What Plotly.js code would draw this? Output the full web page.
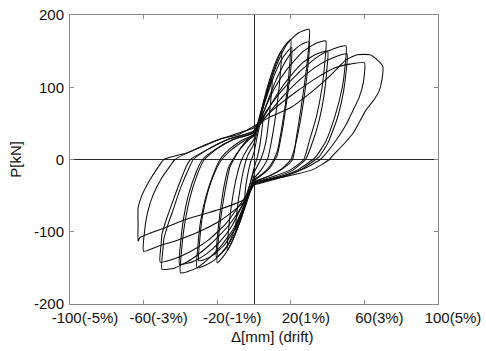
<!DOCTYPE html>
<html>
<head>
<meta charset="utf-8">
<script src="https://cdn.plot.ly/plotly-3.0.1.min.js"></script>
<style>html,body{margin:0;padding:0;background:#fff;}#chart{width:486px;height:351px;}</style>
</head>
<body>
<div id="chart"></div>
<script>
// Hysteresis cycles: displacement [mm] and load [kN]
const cycle01x = [0, -2, -4, -5, -4.6, -3.5, -2, 0, 2, 3.8, 5, 4.6, 3.5, 2, 0];
const cycle01y = [-12, -32, -48, -55, -40, -22, -5, 10, 35, 55, 62, 48, 25, 5, -12];

const cycle02x = [0, -3, -6, -8.5, -10, -9.5, -8, -6, -3.5, 0, 3, 6, 8.5, 10, 9.5, 8.2, 6.5, 4, 0];
const cycle02y = [-15, -42, -70, -88, -98, -78, -48, -18, 5, 22, 52, 82, 102, 112, 92, 58, 25, 2, -18];

const cycle03x = [0, -3, -6.5, -10, -12.5, -14.5, -14, -12.5, -10, -7, -3.5, 0, 3.5, 7, 10.5, 13, 15, 14.5, 13, 10.5, 7.5, 4, 0];
const cycle03y = [-22, -48, -78, -102, -117, -126, -102, -68, -30, -2, 15, 28, 62, 98, 126, 142, 150, 125, 85, 40, 2, -14, -26];

const cycle04x = [0, -4, -8, -12, -16, -20, -19.5, -18, -15.5, -13, -11, -7, -3, 0, 5, 10, 14, 17.5, 20, 19.5, 18, 15.5, 12.5, 9, 5, 0];
const cycle04y = [-26, -55, -88, -114, -132, -143, -115, -80, -40, -10, 0, 17, 29, 35, 78, 118, 146, 160, 166, 135, 95, 50, 10, -8, -19, -28];

const cycle05x = [0, -5, -10, -14, -17.5, -20.5, -20, -18.5, -16.5, -14, -11.5, -7, -3, 0, 5, 10, 14.5, 18, 20.5, 20, 18, 15.5, 12.5, 8.5, 4, 0];
const cycle05y = [-28, -60, -94, -117, -129, -135, -110, -75, -40, -12, 0, 16, 27, 33, 72, 110, 136, 149, 155, 125, 85, 42, 5, -12, -22, -29];

const cycle06x = [0, -4, -9, -15, -22, -27, -31, -30.5, -29, -26, -22, -18.5, -13, -7, 0, 4, 8, 13, 18, 24, 30, 29.5, 28, 25.5, 23, 21, 16, 9, 0];
const cycle06y = [-29, -60, -95, -122, -140, -147, -150, -120, -85, -50, -20, 0, 15, 26, 35, 65, 100, 135, 160, 175, 180, 150, 115, 70, 30, 0, -12, -22, -30];

const cycle07x = [0, -5, -10, -16, -22, -26.5, -30, -29.5, -28, -25, -21, -17.5, -12, -6, 0, 5, 10, 15, 20, 25.5, 30, 29.5, 28, 25.5, 22.5, 20, 15, 8, 0];
const cycle07y = [-30, -62, -94, -118, -132, -138, -140, -112, -78, -44, -16, 0, 14, 25, 34, 64, 98, 126, 147, 159, 163, 135, 100, 58, 20, 0, -13, -23, -31];

const cycle08x = [0, -5, -11, -18, -25, -31, -36, -40, -39.5, -38, -35, -31, -27, -20, -11, 0, 5, 11, 18, 26, 33, 39, 38.5, 37, 34, 30, 27, 20, 10, 0];
const cycle08y = [-31, -62, -95, -120, -138, -150, -155, -157, -130, -95, -55, -22, 0, 15, 28, 38, 65, 98, 125, 148, 160, 164, 135, 100, 60, 25, 0, -14, -24, -32];

const cycle09x = [0, -6, -12, -19, -26, -32, -37, -40.5, -40, -38.5, -35.5, -31.5, -28, -21, -12, 0, 6, 13, 20, 27, 34, 40, 39.5, 38, 35, 31, 28, 21, 11, 0];
const cycle09y = [-32, -62, -92, -115, -131, -140, -144, -145, -118, -85, -48, -18, 0, 14, 27, 37, 62, 92, 116, 135, 146, 150, 122, 88, 50, 18, 0, -15, -25, -33];

const cycle10x = [0, -6, -14, -24, -34, -43, -50, -49.5, -49, -46.5, -44, -40, -35, -33, -25, -14, 0, 7, 15, 25, 35, 43, 50, 49.5, 48, 44, 39, 34, 32, 24, 12, 0];
const cycle10y = [-33, -62, -92, -118, -138, -150, -152, -125, -110, -88, -70, -40, -10, 0, 14, 28, 40, 68, 95, 122, 143, 153, 157, 130, 100, 60, 25, 5, 0, -14, -26, -34];

const cycle11x = [0, -7, -15, -25, -35, -44, -51, -50.5, -50, -47.5, -45, -41, -36.5, -34.5, -26, -15, 0, 8, 16, 26, 36, 44, 50.5, 50, 48.5, 45, 40, 35.5, 33.5, 25, 12, 0];
const cycle11y = [-34, -60, -88, -112, -128, -138, -142, -118, -103, -82, -64, -36, -8, 0, 13, 27, 39, 64, 88, 113, 132, 142, 146, 120, 92, 55, 22, 4, 0, -15, -27, -35];

const cycle12x = [0, -6, -18, -30, -42, -52, -60, -59.5, -58, -55, -50, -45, -43, -33, -20, -8, 0, 10, 22, 34, 44, 52, 60, 59.4, 57, 54, 50, 45, 38, 36, 27, 14, 0];
const cycle12y = [-35, -60, -84, -100, -112, -120, -127, -100, -75, -50, -25, -7, 0, 13, 27, 37, 44, 68, 92, 113, 127, 132, 134, 106, 85, 69, 48, 28, 5, 0, -13, -24, -33];

const cycle13x = [0, -5, -20, -37, -50, -62, -63, -63, -63, -61, -57, -53, -49, -43, -36.5, -28, -18.5, -8, 0, 8, 20, 32, 43, 50, 56, 63, 67, 70, 69.5, 68, 65, 61, 54, 48, 43, 41, 32, 18, 3];
const cycle13y = [-33, -55, -70, -83, -96, -108, -113, -90, -67, -50, -30, -14, 0, 5, 9, 18, 28, 35, 46, 58, 72, 95, 120, 138, 145, 145, 138, 129, 110, 95, 82, 69, 37, 19, 6, 0, -14, -23, -30];

const xTickVals = [-100, -60, -20, 20, 60, 100];
const xTickText = ['-100(-5%)', '-60(-3%)', '-20(-1%)', '20(1%)', '60(3%)', '100(5%)'];
const yTickVals = [-200, -100, 0, 100, 200];
const yTickText = ['-200', '-100', '0', '100', '200'];

const cyclesX = [cycle01x, cycle02x, cycle03x, cycle04x, cycle05x, cycle06x, cycle07x, cycle08x, cycle09x, cycle10x, cycle11x, cycle12x, cycle13x];
const cyclesY = [cycle01y, cycle02y, cycle03y, cycle04y, cycle05y, cycle06y, cycle07y, cycle08y, cycle09y, cycle10y, cycle11y, cycle12y, cycle13y];

const FONT = '"Liberation Sans", Arial, sans-serif';

const traces = cyclesX.map((cx, i) => ({
  type: 'scatter',
  mode: 'lines',
  x: cx,
  y: cyclesY[i],
  line: {color: '#0d0d0d', width: 1.05, shape: 'spline', smoothing: 0.5},
  hoverinfo: 'skip',
  showlegend: false
}));

const axisCommon = {
  showgrid: false,
  showline: true,
  linecolor: '#8a8a8a',
  linewidth: 1,
  mirror: 'ticks',
  ticks: 'inside',
  ticklen: 4,
  tickcolor: '#8a8a8a',
  zeroline: true,
  zerolinecolor: '#2a2a2a',
  zerolinewidth: 1,
  tickfont: {family: FONT, size: 15, color: '#111'},
  fixedrange: true
};

const layout = {
  width: 486,
  height: 351,
  margin: {l: 70, r: 48, t: 15, b: 47},
  paper_bgcolor: '#fff',
  plot_bgcolor: '#fff',
  showlegend: false,
  font: {family: FONT, color: '#111'},
  xaxis: Object.assign({}, axisCommon, {
    range: [-100, 100],
    tickmode: 'array',
    tickvals: xTickVals,
    ticktext: xTickText,
    ticklabelshift: 15,
    title: {text: ''}
  }),
  yaxis: Object.assign({}, axisCommon, {
    range: [-200, 200],
    tickmode: 'array',
    tickvals: yTickVals,
    ticktext: yTickText,
    ticklabelstandoff: 2,
    title: {text: ''}
  }),
  annotations: [
    {text: 'Δ[mm] (drift)', xref: 'paper', yref: 'paper', x: 0.549, y: -0.114,
     xanchor: 'center', yanchor: 'middle', showarrow: false,
     font: {family: FONT, size: 15, color: '#111'}},
    {text: 'P[kN]', xref: 'paper', yref: 'paper', x: -0.149, y: 0.5, textangle: -90,
     xanchor: 'center', yanchor: 'middle', showarrow: false,
     font: {family: FONT, size: 15, color: '#111'}}
  ]
};

Plotly.newPlot('chart', traces, layout, {displayModeBar: false, staticPlot: true});
</script>
</body>
</html>
